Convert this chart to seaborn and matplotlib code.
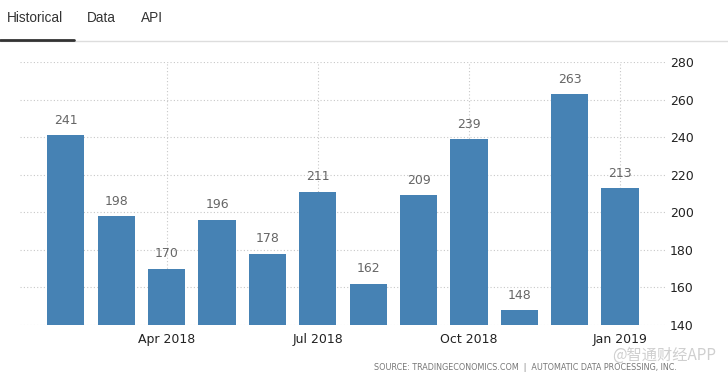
"""Bar chart of monthly values, Feb 2018 - Jan 2019 (tradingeconomics style)."""
import matplotlib
matplotlib.use("Agg")
import matplotlib.pyplot as plt
import pandas as pd
import seaborn as sns

months = ["Feb 2018", "Mar 2018", "Apr 2018", "May 2018", "Jun 2018", "Jul 2018",
          "Aug 2018", "Sep 2018", "Oct 2018", "Nov 2018", "Dec 2018", "Jan 2019"]
values = [241, 198, 170, 196, 178, 211, 162, 209, 239, 148, 263, 213]
shown_ticks = ["Apr 2018", "Jul 2018", "Oct 2018", "Jan 2019"]
y_ticks = [140, 160, 180, 200, 220, 240, 260, 280]

BAR = "#4682b4"
GRID = "#c8c8c8"

df = pd.DataFrame({"month": months, "value": values})

sns.set_style("white")
plt.rcParams["font.family"] = ["DejaVu Sans"]

fig = plt.figure(figsize=(7.28, 3.75), dpi=100)
W, H = 728, 375
ax = fig.add_axes([20 / W, (H - 325) / H, (667 - 20) / W, (325 - 62) / H])

sns.barplot(data=df, x="month", y="value", color=BAR, width=0.74,
            saturation=1, linewidth=0, edgecolor=BAR, ax=ax, zorder=3)

ax.set_ylim(140, 280)
ax.set_xlim(-0.91, 11.93)
ax.set_yticks(y_ticks)
ax.yaxis.tick_right()
ax.tick_params(axis="y", length=0, pad=2, labelsize=9, labelcolor="#222222")

pos = [months.index(m) for m in shown_ticks]
ax.set_xticks(pos)
ax.set_xticklabels(shown_ticks)
ax.tick_params(axis="x", length=3, color=GRID, pad=3, labelsize=9, labelcolor="#222222")

ax.grid(True, axis="both", color=GRID, linestyle=(0, (1, 2)), linewidth=0.8, zorder=0)
ax.set_axisbelow(True)
for s in ax.spines.values():
    s.set_visible(False)
ax.set_xlabel("")
ax.set_ylabel("")

for c in ax.containers:
    ax.bar_label(c, padding=6, fontsize=9, color="#666666")

# tabs header
tab = dict(fontsize=9.8, color="#333333", va="center", family=["Liberation Sans"])
fig.text(7 / W, 1 - 18 / H, "Historical", **tab)
fig.text(87 / W, 1 - 18 / H, "Data", **tab)
fig.text(141 / W, 1 - 18 / H, "API", **tab)
fig.add_artist(plt.Line2D([0, 1], [1 - 40.5 / H] * 2, color="#dddddd", lw=1))
fig.add_artist(plt.Line2D([0, 74 / W], [1 - 40 / H] * 2, color="#333333", lw=2))

fig.text(374 / W, 1 - 367 / H,
         "SOURCE: TRADINGECONOMICS.COM  |  AUTOMATIC DATA PROCESSING, INC.",
         fontsize=5.8, color="#777777", va="center")
fig.text(612 / W, 1 - 355 / H, "@智通财经APP", fontsize=11, color="#cfcfcf",
         va="center", family=["Noto Sans CJK SC", "DejaVu Sans"])

fig.savefig("out.png", dpi=100)
